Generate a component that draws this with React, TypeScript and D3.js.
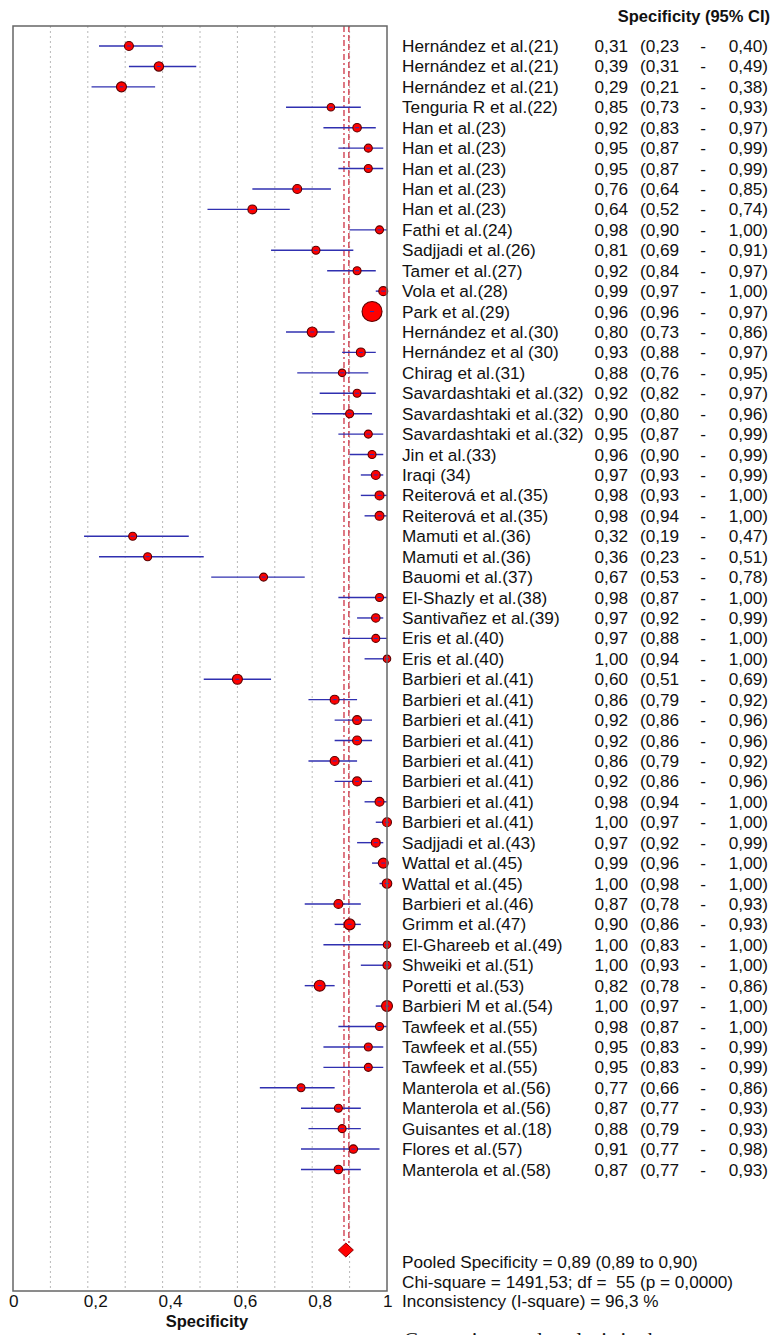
import React, { useRef, useEffect } from "react";
import * as d3 from "d3";

// study labels, top to bottom
const studies = [
  "Hernández et al.(21)", "Hernández et al.(21)", "Hernández et al.(21)",
  "Tenguria R et al.(22)", "Han et al.(23)", "Han et al.(23)", "Han et al.(23)",
  "Han et al.(23)", "Han et al.(23)", "Fathi et al.(24)", "Sadjjadi et al.(26)",
  "Tamer et al.(27)", "Vola et al.(28)", "Park et al.(29)", "Hernández et al.(30)",
  "Hernández et al (30)", "Chirag et al.(31)", "Savardashtaki et al.(32)",
  "Savardashtaki et al.(32)", "Savardashtaki et al.(32)", "Jin et al.(33)",
  "Iraqi (34)", "Reiterová et al.(35)", "Reiterová et al.(35)", "Mamuti et al.(36)",
  "Mamuti et al.(36)", "Bauomi et al.(37)", "El-Shazly et al.(38)",
  "Santivañez et al.(39)", "Eris et al.(40)", "Eris et al.(40)",
  "Barbieri et al.(41)", "Barbieri et al.(41)", "Barbieri et al.(41)",
  "Barbieri et al.(41)", "Barbieri et al.(41)", "Barbieri et al.(41)",
  "Barbieri et al.(41)", "Barbieri et al.(41)", "Sadjjadi et al.(43)",
  "Wattal et al.(45)", "Wattal et al.(45)", "Barbieri et al.(46)", "Grimm et al.(47)",
  "El-Ghareeb et al.(49)", "Shweiki et al.(51)", "Poretti et al.(53)",
  "Barbieri M et al.(54)", "Tawfeek et al.(55)", "Tawfeek et al.(55)",
  "Tawfeek et al.(55)", "Manterola et al.(56)", "Manterola et al.(56)",
  "Guisantes et al.(18)", "Flores et al.(57)", "Manterola et al.(58)",
];

const spec = [
  0.31, 0.39, 0.29, 0.85, 0.92, 0.95, 0.95, 0.76, 0.64, 0.98, 0.81, 0.92, 0.99, 0.96,
  0.80, 0.93, 0.88, 0.92, 0.90, 0.95, 0.96, 0.97, 0.98, 0.98, 0.32, 0.36, 0.67, 0.98,
  0.97, 0.97, 1.0, 0.60, 0.86, 0.92, 0.92, 0.86, 0.92, 0.98, 1.0, 0.97, 0.99, 1.0,
  0.87, 0.90, 1.0, 1.0, 0.82, 1.0, 0.98, 0.95, 0.95, 0.77, 0.87, 0.88, 0.91, 0.87,
];

const lower = [
  0.23, 0.31, 0.21, 0.73, 0.83, 0.87, 0.87, 0.64, 0.52, 0.90, 0.69, 0.84, 0.97, 0.96,
  0.73, 0.88, 0.76, 0.82, 0.80, 0.87, 0.90, 0.93, 0.93, 0.94, 0.19, 0.23, 0.53, 0.87,
  0.92, 0.88, 0.94, 0.51, 0.79, 0.86, 0.86, 0.79, 0.86, 0.94, 0.97, 0.92, 0.96, 0.98,
  0.78, 0.86, 0.83, 0.93, 0.78, 0.97, 0.87, 0.83, 0.83, 0.66, 0.77, 0.79, 0.77, 0.77,
];

const upper = [
  0.40, 0.49, 0.38, 0.93, 0.97, 0.99, 0.99, 0.85, 0.74, 1.0, 0.91, 0.97, 1.0, 0.97,
  0.86, 0.97, 0.95, 0.97, 0.96, 0.99, 0.99, 0.99, 1.0, 1.0, 0.47, 0.51, 0.78, 1.0,
  0.99, 1.0, 1.0, 0.69, 0.92, 0.96, 0.96, 0.92, 0.96, 1.0, 1.0, 0.99, 1.0, 1.0,
  0.93, 0.93, 1.0, 1.0, 0.86, 1.0, 1.0, 0.99, 0.99, 0.86, 0.93, 0.93, 0.98, 0.93,
];

// relative study weights (marker area)
const weights = [
  20, 22, 25, 14, 18, 16, 16, 20, 20, 16, 16, 16, 20, 100, 25, 20, 14, 16, 16, 16,
  16, 20, 20, 20, 16, 16, 16, 16, 18, 16, 14, 25, 20, 20, 20, 20, 20, 20, 20, 20,
  25, 23, 20, 30, 14, 16, 30, 30, 16, 16, 16, 16, 16, 16, 18, 18,
];

const tickValues = [0, 0.2, 0.4, 0.6, 0.8, 1];
const tickLabels = ["0", "0,2", "0,4", "0,6", "0,8", "1"];
const gridValues = [0.1, 0.2, 0.3, 0.4, 0.5, 0.6, 0.7, 0.8, 0.9];

const pooled = 0.89;
const pooledLines = [0.885, 0.898];
const summary = [
  "Pooled Specificity = 0,89 (0,89 to 0,90)",
  "Chi-square = 1491,53; df =  55 (p = 0,0000)",
  "Inconsistency (I-square) = 96,3 %",
];

const fmt = (v: number) => v.toFixed(2).replace(".", ",");

export default function App() {
  const ref = useRef<SVGSVGElement | null>(null);

  useEffect(() => {
    const W = 783;
    const H = 1335;
    const left = 13;
    const right = 387;
    const top = 26;
    const bottom = 1291;
    const font = "Liberation Sans, Arial, sans-serif";
    const fs = 17.2;

    const svg = d3.select(ref.current);
    svg.selectAll("*").remove();
    svg.attr("width", W).attr("height", H);

    const x = d3.scaleLinear().domain([0, 1]).range([left, right]);
    const y = d3
      .scaleLinear()
      .domain([0, studies.length - 1])
      .range([46, 1169.5]);
    const r = d3.scaleSqrt().domain([0, 100]).range([0, 10]);

    // dotted grid
    svg
      .append("g")
      .selectAll("line")
      .data(gridValues)
      .join("line")
      .attr("x1", (d) => x(d))
      .attr("x2", (d) => x(d))
      .attr("y1", top)
      .attr("y2", bottom)
      .attr("stroke", "#b8b8b8")
      .attr("stroke-width", 1)
      .attr("stroke-dasharray", "2,3");

    // pooled lines (dash-dot, dashed)
    svg
      .append("g")
      .selectAll("line")
      .data(pooledLines)
      .join("line")
      .attr("x1", (d) => x(d))
      .attr("x2", (d) => x(d))
      .attr("y1", top)
      .attr("y2", 1243)
      .attr("stroke", "#cc3344")
      .attr("stroke-width", 1.3)
      .attr("stroke-dasharray", (d, i) => (i === 0 ? "6,3,2,3" : "6,3"));

    // CI lines
    svg
      .append("g")
      .selectAll("line")
      .data(studies)
      .join("line")
      .attr("x1", (d, i) => x(lower[i]))
      .attr("x2", (d, i) => x(upper[i]))
      .attr("y1", (d, i) => y(i))
      .attr("y2", (d, i) => y(i))
      .attr("stroke", "#3030b0")
      .attr("stroke-width", 1.4);

    // point estimates
    svg
      .append("g")
      .selectAll("circle")
      .data(studies)
      .join("circle")
      .attr("cx", (d, i) => x(spec[i]))
      .attr("cy", (d, i) => y(i))
      .attr("r", (d, i) => r(weights[i]))
      .attr("fill", "#ff0000")
      .attr("stroke", "#5a0000")
      .attr("stroke-width", 1.1);

    // small blue tick through marker
    svg
      .append("g")
      .selectAll("line")
      .data(studies)
      .join("line")
      .attr("x1", (d, i) => x(spec[i]) - 2)
      .attr("x2", (d, i) => x(spec[i]) + 2)
      .attr("y1", (d, i) => y(i))
      .attr("y2", (d, i) => y(i))
      .attr("stroke", "#3030b0")
      .attr("stroke-width", 1);

    // pooled diamond
    const cx = x(pooled);
    const cy = 1250;
    svg
      .append("path")
      .attr(
        "d",
        `M${cx - 7.5},${cy} L${cx},${cy - 7} L${cx + 7.5},${cy} L${cx},${cy + 7} Z`
      )
      .attr("fill", "#ff0000")
      .attr("stroke", "#8a0000")
      .attr("stroke-width", 1);

    // frame
    svg
      .append("rect")
      .attr("x", left)
      .attr("y", top)
      .attr("width", right - left)
      .attr("height", bottom - top)
      .attr("fill", "none")
      .attr("stroke", "#666")
      .attr("stroke-width", 1.5);

    // x tick labels
    svg
      .append("g")
      .selectAll("text")
      .data(tickValues)
      .join("text")
      .attr("x", (d) => x(d) - 4)
      .attr("y", 1307)
      .attr("font-family", font)
      .attr("font-size", fs)
      .attr("fill", "#111")
      .text((d, i) => tickLabels[i]);

    svg
      .append("text")
      .attr("x", 207)
      .attr("y", 1327)
      .attr("text-anchor", "middle")
      .attr("font-family", font)
      .attr("font-size", 16.5)
      .attr("font-weight", "bold")
      .attr("fill", "#111")
      .text("Specificity");

    // header
    svg
      .append("text")
      .attr("x", 770)
      .attr("y", 22)
      .attr("text-anchor", "end")
      .attr("font-family", font)
      .attr("font-size", 16.5)
      .attr("font-weight", "bold")
      .attr("fill", "#111")
      .text("Specificity (95% CI)");

    const rows = svg
      .append("g")
      .attr("font-family", font)
      .attr("font-size", fs)
      .attr("fill", "#111")
      .selectAll("g")
      .data(studies)
      .join("g")
      .attr("transform", (d, i) => `translate(0,${y(i) + 6})`);

    rows.append("text").attr("x", 402).text((d) => d);
    rows
      .append("text")
      .attr("x", 628)
      .attr("text-anchor", "end")
      .text((d, i) => fmt(spec[i]));
    // CI column: "(lo - hi)" laid out in fixed slots
    rows.append("text").attr("x", 640).text((d, i) => `(${fmt(lower[i])}`);
    rows
      .append("text")
      .attr("x", 703)
      .attr("text-anchor", "middle")
      .text("-");
    rows
      .append("text")
      .attr("x", 768)
      .attr("text-anchor", "end")
      .text((d, i) => `${fmt(upper[i])})`);

    // summary stats
    svg
      .append("g")
      .selectAll("text")
      .data(summary)
      .join("text")
      .attr("x", 402)
      .attr("y", (d, i) => 1268 + i * 19.5)
      .attr("font-family", font)
      .attr("font-size", fs)
      .attr("fill", "#111")
      .style("white-space", "pre")
      .text((d) => d);

    // caption cut off at page bottom
    svg
      .append("text")
      .attr("x", 404)
      .attr("y", 1347)
      .attr("font-family", "Liberation Serif, Times New Roman, serif")
      .attr("font-size", 21)
      .attr("fill", "#111")
      .text("Comparison and analysis in the present");
  }, []);

  return (
    <svg
      ref={ref}
      style={{ position: "absolute", left: 0, top: 0, display: "block", background: "#fff" }}
    />
  );
}
